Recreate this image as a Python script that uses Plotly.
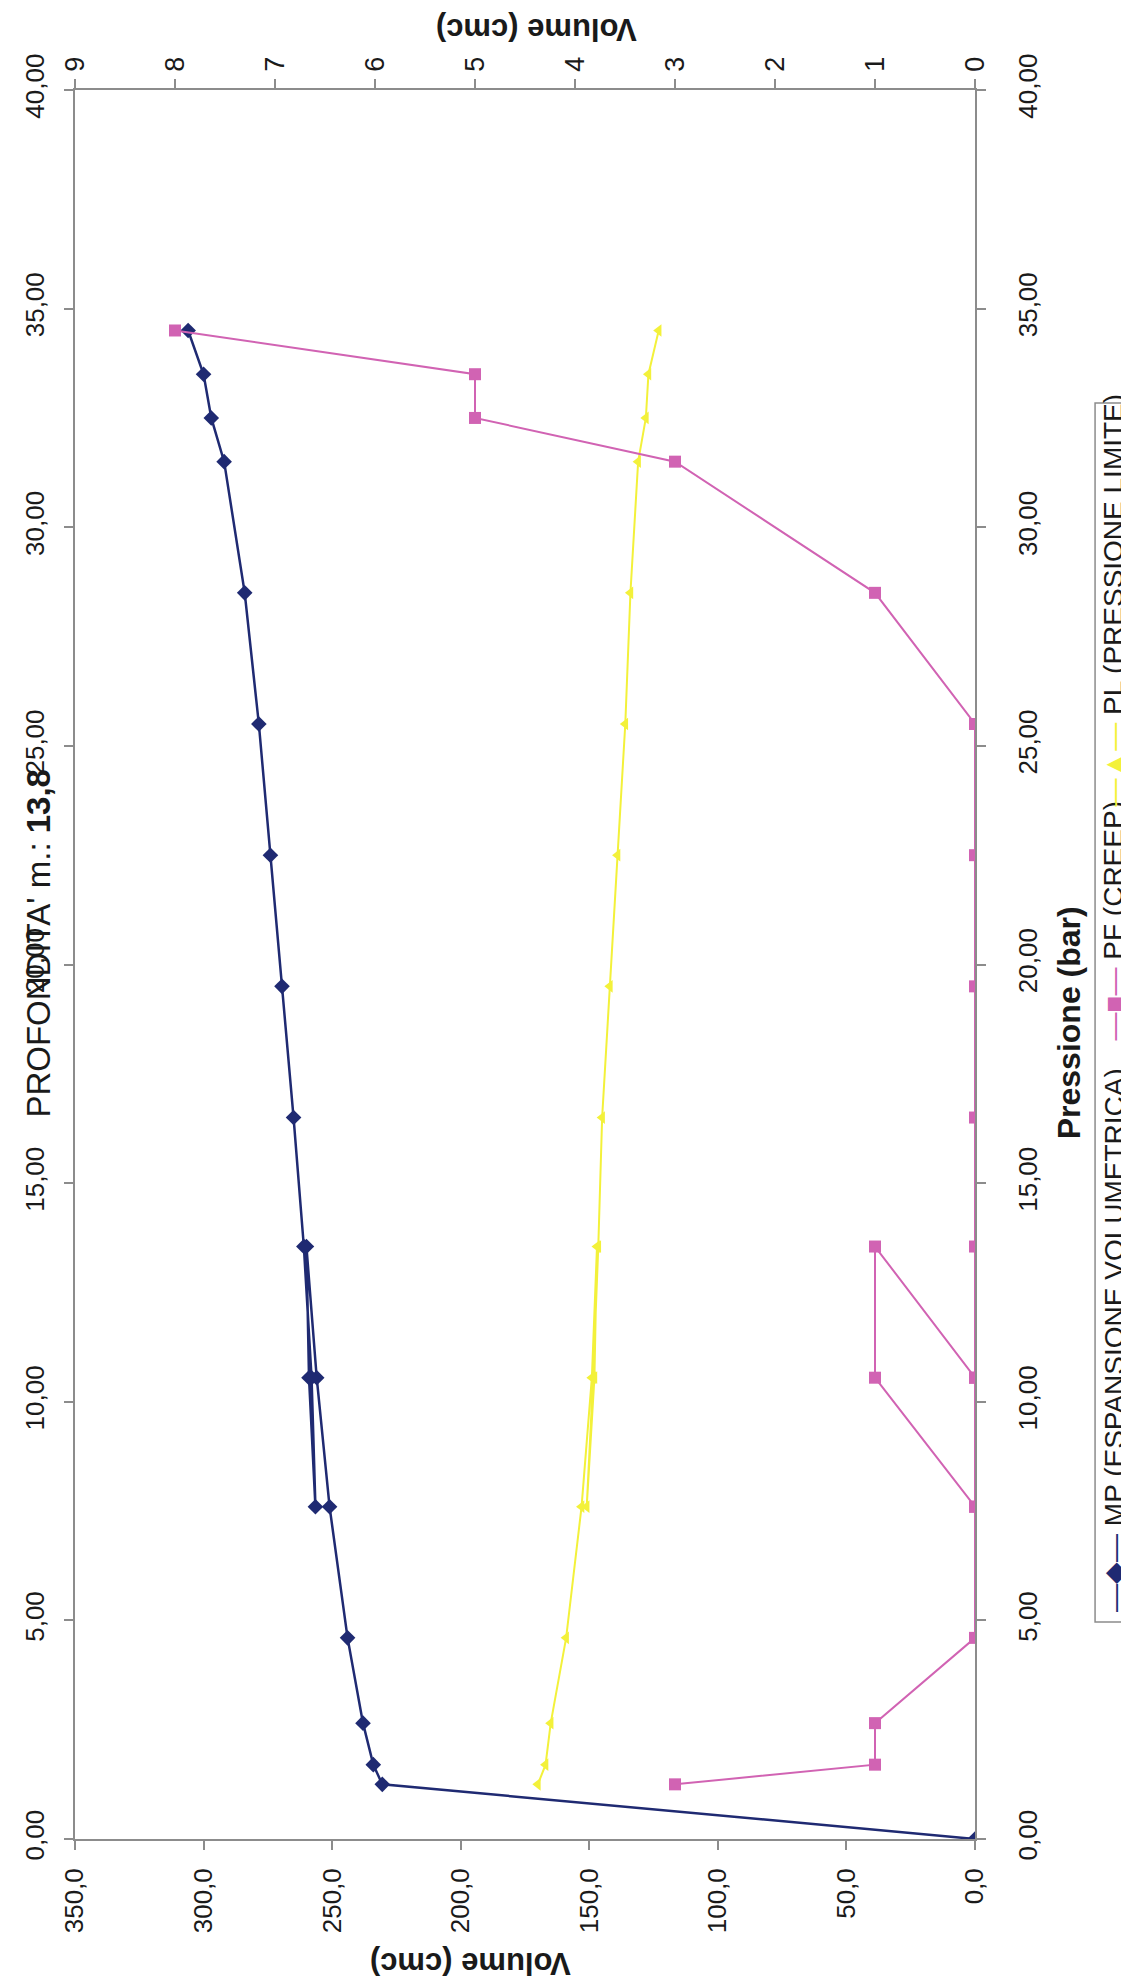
import plotly.graph_objects as go

# ---------------- data ----------------
pressure_mp = [0.0, 1.25, 1.7, 2.65, 4.6, 7.6, 10.55, 13.55, 10.55, 7.6, 10.55, 13.55,
               16.5, 19.5, 22.5, 25.5, 28.5, 31.5, 32.5, 33.5, 34.5]
volume_mp = [0.0, 230.5, 234.0, 238.0, 244.0, 251.0, 256.0, 260.0, 259.0, 256.5, 258.0, 261.0,
             265.0, 269.5, 274.0, 278.5, 284.0, 292.0, 297.0, 300.0, 306.0]

pressure_pf = [1.25, 1.7, 2.65, 4.6, 7.6, 10.55, 13.55, 10.55, 7.6, 10.55, 13.55,
               16.5, 19.5, 22.5, 25.5, 28.5, 31.5, 32.5, 33.5, 34.5]
creep_pf = [3, 1, 1, 0, 0, 1, 1, 0, 0, 0, 0, 0, 0, 0, 0, 1, 3, 5, 5, 8]

pressure_pl = [1.25, 1.7, 2.65, 4.6, 7.6, 10.55, 13.55, 10.55, 7.6, 10.55, 13.55,
               16.5, 19.5, 22.5, 25.5, 28.5, 31.5, 32.5, 33.5, 34.5]
volume_pl = [170.0, 167.0, 165.0, 159.0, 153.0, 149.0, 147.0, 148.0, 151.0, 148.5, 146.5,
             145.0, 142.0, 139.0, 136.0, 134.0, 131.0, 128.0, 127.0, 123.0]

volume_ticks = [0, 50, 100, 150, 200, 250, 300, 350]
volume_ticktext = ["0,0", "50,0", "100,0", "150,0", "200,0", "250,0", "300,0", "350,0"]
creep_ticks = [0, 1, 2, 3, 4, 5, 6, 7, 8, 9]
creep_ticktext = ["0", "1", "2", "3", "4", "5", "6", "7", "8", "9"]
pressure_ticks = [0, 5, 10, 15, 20, 25, 30, 35, 40]
pressure_ticktext = ["0,00", "5,00", "10,00", "15,00", "20,00", "25,00", "30,00", "35,00", "40,00"]

series_names = ["MP (ESPANSIONE VOLUMETRICA)", "PF (CREEP)", "PL (PRESSIONE LIMITE)"]
chart_title = "PROFONDITA' m.: <b>13,8</b>"
volume_title = "<b>Volume (cmc)</b>"
pressure_title = "<b>Pressione (bar)</b>"

# ---------------- styles ----------------
C_MP = "#1f2a72"
C_PF = "#d163b3"
C_PL = "#f3f13a"
AXC = "#8c8c8c"
TXT = "#1a1a1a"
FONT = "Liberation Sans, Arial, sans-serif"

W, H = 1129, 1985
L, R, T, B = 60, 162, 82, 154
PW, PH = W - L - R, H - T - B


def px(xp):
    return (xp - L) / PW


def py(yp):
    return (H - B - yp) / PH


fig = go.Figure()

fig.add_trace(go.Scatter(
    x=volume_pl, y=pressure_pl, xaxis="x", yaxis="y", name=series_names[2],
    mode="lines+markers", line=dict(color=C_PL, width=2),
    marker=dict(symbol="triangle-left", size=11, color=C_PL), showlegend=False))

fig.add_trace(go.Scatter(
    x=creep_pf, y=pressure_pf, xaxis="x2", yaxis="y", name=series_names[1],
    mode="lines+markers", line=dict(color=C_PF, width=2),
    marker=dict(symbol="square", size=12, color=C_PF), showlegend=False))

fig.add_trace(go.Scatter(
    x=volume_mp, y=pressure_mp, xaxis="x", yaxis="y2", name=series_names[0],
    mode="lines+markers", line=dict(color=C_MP, width=2.5),
    marker=dict(symbol="diamond", size=12, color=C_MP), showlegend=False))

common = dict(showline=True, linecolor=AXC, linewidth=1.6, ticks="outside", ticklen=9,
              tickwidth=1.5, tickcolor=AXC, showgrid=False, zeroline=False,
              tickmode="array", tickangle=-90)

fig.update_layout(
    width=W, height=H,
    margin=dict(l=L, r=R, t=T, b=B, pad=0),
    paper_bgcolor="white", plot_bgcolor="white",
    showlegend=False,
    xaxis=dict(range=[350, 0], tickvals=volume_ticks, ticktext=volume_ticktext,
               side="bottom", anchor="y", ticklabelstandoff=8,
               tickfont=dict(family=FONT, size=26, color=TXT), **common),
    xaxis2=dict(range=[9, 0], tickvals=creep_ticks, ticktext=creep_ticktext,
                side="top", anchor="y", overlaying="x", ticklabelstandoff=2,
                tickfont=dict(family=FONT, size=27, color=TXT), **common),
    yaxis=dict(range=[0, 40], tickvals=pressure_ticks, ticktext=pressure_ticktext,
               side="right", anchor="x", ticklabelstandoff=20,
               tickfont=dict(family=FONT, size=26, color=TXT), **common),
    yaxis2=dict(range=[0, 40], tickvals=pressure_ticks, ticktext=pressure_ticktext,
                side="left", anchor="x", overlaying="y", ticklabelstandoff=10,
                tickfont=dict(family=FONT, size=26, color=TXT), **common),
)

ann = []
ann.append(dict(text=volume_title, xref="paper", yref="paper", x=px(458), y=py(1955),
                textangle=180, showarrow=False, xanchor="center", yanchor="middle",
                font=dict(family=FONT, size=31, color=TXT)))
ann.append(dict(text=volume_title, xref="paper", yref="paper", x=px(525), y=py(22),
                textangle=180, showarrow=False, xanchor="center", yanchor="middle",
                font=dict(family=FONT, size=31, color=TXT)))
ann.append(dict(text=pressure_title, xref="paper", yref="paper", x=px(1062), y=py(1015),
                textangle=-90, showarrow=False, xanchor="center", yanchor="middle",
                font=dict(family=FONT, size=32, color=TXT)))
ann.append(dict(text=chart_title, xref="paper", yref="paper", x=px(44), y=py(935),
                textangle=-90, showarrow=False, xanchor="right", yanchor="middle",
                font=dict(family=FONT, size=33, color=TXT)))

legend_items = [
    (series_names[0], C_MP, "\u25c6", 1606),
    (series_names[1], C_PF, "\u25a0", 1034),
    (series_names[2], C_PL, "\u25b2", 800),
]
for name, col, sym, ybot in legend_items:
    ann.append(dict(
        text=f"<span style='color:{col}'>\u2014{sym}\u2014</span> {name}",
        xref="paper", yref="paper", x=px(1107), y=py(ybot),
        textangle=-90, showarrow=False, xanchor="center", yanchor="bottom",
        font=dict(family=FONT, size=28, color=TXT)))

fig.update_layout(annotations=ann)
fig.add_shape(type="rect", xref="paper", yref="paper",
              x0=px(1088), x1=px(1145), y0=py(1614), y1=py(395),
              line=dict(color=AXC, width=1.5), fillcolor="rgba(0,0,0,0)")

fig.write_html("out.html")
